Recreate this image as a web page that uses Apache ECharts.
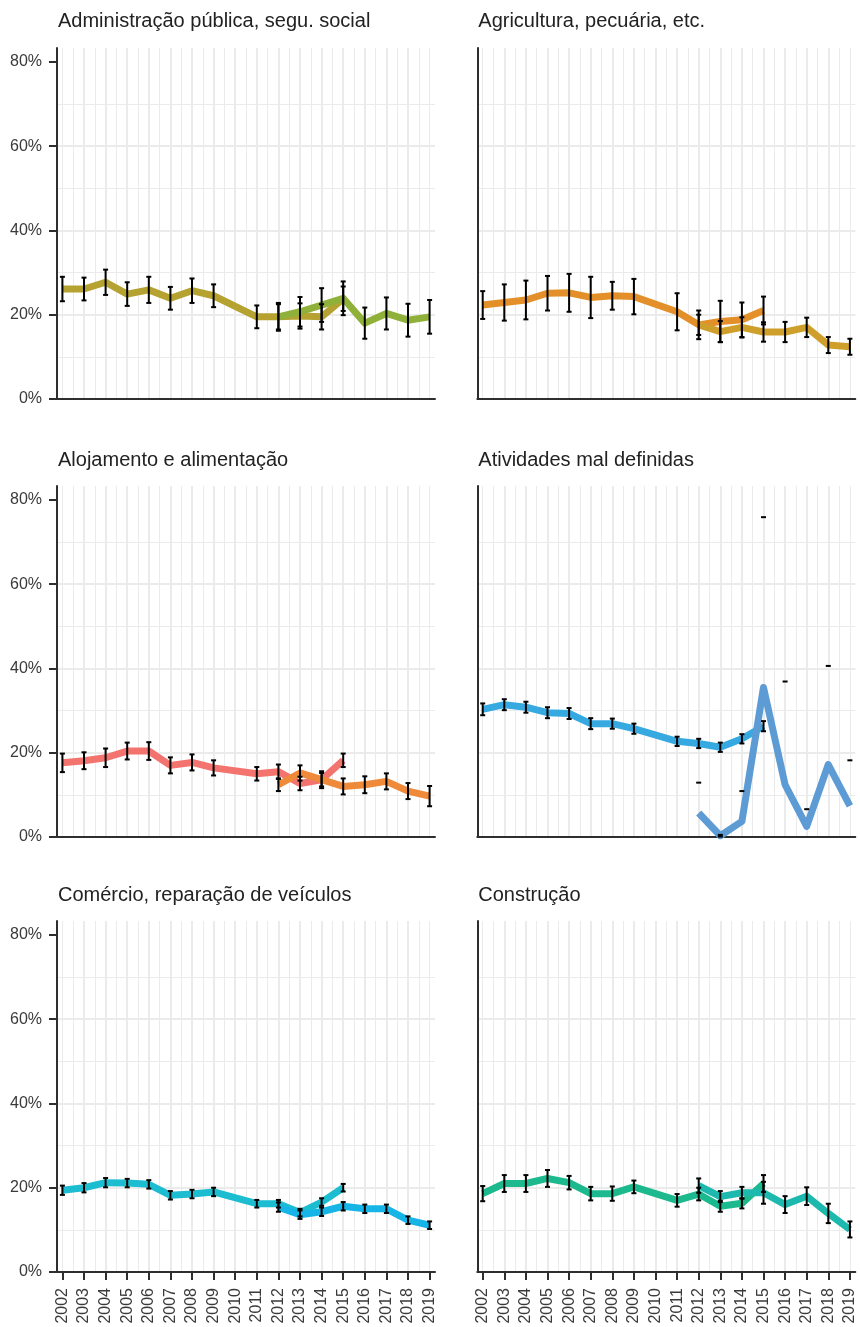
<!DOCTYPE html>
<html>
<head>
<meta charset="utf-8">
<script src="https://cdn.jsdelivr.net/npm/echarts@6/dist/echarts.min.js"></script>
<style>
  html, body { margin: 0; padding: 0; background: #ffffff; }
  #chart { width: 860px; height: 1327px; }
</style>
</head>
<body>
<div id="chart"></div>
<script>
// Years covered by each survey series (no 2010 round in the older survey)
const oldYears = [2002, 2003, 2004, 2005, 2006, 2007, 2008, 2009, 2011, 2012, 2013, 2014, 2015];
const newYears = [2012, 2013, 2014, 2015, 2016, 2017, 2018, 2019];
const yearTicks = [2002, 2003, 2004, 2005, 2006, 2007, 2008, 2009, 2010, 2011, 2012, 2013, 2014, 2015, 2016, 2017, 2018, 2019];
const percentTicks = [0, 20, 40, 60, 80];

const panelTitles = [
  'Administração pública, segu. social',
  'Agricultura, pecuária, etc.',
  'Alojamento e alimentação',
  'Atividades mal definidas',
  'Comércio, reparação de veículos',
  'Construção'
];

// Estimates (%) and margins of error (± percentage points)
const adminOld    = [26.1, 26.1, 27.7, 24.9, 25.9, 23.9, 25.7, 24.5, 19.5, 19.5, 19.7, 19.5, 23.8];
const adminOldMoe = [2.9, 2.7, 3.0, 2.8, 3.1, 2.7, 2.9, 2.7, 2.7, 3.0, 3.0, 3.0, 2.9];
const adminNew    = [19.5, 20.7, 22.3, 23.9, 18.0, 20.3, 18.7, 19.5];
const adminNewMoe = [3.3, 3.5, 4.0, 4.0, 3.7, 3.8, 3.9, 4.0];

const agroOld    = [22.3, 22.9, 23.5, 25.1, 25.2, 24.1, 24.5, 24.3, 20.7, 17.6, 18.4, 18.8, 21.0];
const agroOldMoe = [3.3, 4.3, 4.6, 4.1, 4.5, 4.9, 3.3, 4.2, 4.4, 3.4, 4.9, 4.1, 3.3];
const agroNew    = [17.6, 16.0, 17.0, 15.9, 15.9, 17.0, 12.8, 12.4];
const agroNewMoe = [2.4, 2.5, 2.4, 2.3, 2.4, 2.3, 1.9, 1.9];

const lodgingOld    = [17.6, 18.1, 18.8, 20.4, 20.4, 17.0, 17.7, 16.4, 15.0, 15.5, 12.7, 13.6, 18.2];
const lodgingOldMoe = [2.2, 2.0, 2.2, 2.0, 2.1, 1.9, 1.9, 1.8, 1.6, 1.7, 1.6, 1.6, 1.6];
const lodgingNew    = [12.4, 15.2, 13.6, 12.0, 12.4, 13.2, 10.9, 9.7];
const lodgingNewMoe = [1.5, 1.8, 2.0, 1.9, 2.0, 1.9, 1.9, 2.4];

const undefinedOld    = [30.3, 31.4, 30.8, 29.5, 29.3, 26.9, 26.9, 25.7, 22.7, 22.2, 21.3, 23.3, 26.3];
const undefinedOldMoe = [1.4, 1.3, 1.3, 1.3, 1.3, 1.3, 1.2, 1.2, 1.1, 1.1, 1.1, 1.1, 1.2];
const undefinedNew    = [5.7, 0.3, 3.7, 35.5, 12.4, 2.5, 17.2, 7.4];
const undefinedNewMoe = [7.2, 0.2, 7.2, 40.4, 24.5, 4.1, 23.4, 10.8];

const tradeOld    = [19.4, 20.0, 21.2, 21.1, 20.8, 18.2, 18.5, 19.0, 16.2, 16.2, 14.1, 16.6, 20.0];
const tradeOldMoe = [1.1, 1.1, 1.1, 1.0, 1.0, 1.0, 1.0, 1.0, 0.9, 0.9, 0.9, 0.9, 0.9];
const tradeNew    = [15.4, 13.6, 14.3, 15.6, 15.0, 15.0, 12.3, 11.1];
const tradeNewMoe = [1.1, 1.0, 1.0, 1.0, 1.0, 1.0, 0.9, 0.9];

const buildOld    = [18.6, 21.0, 21.0, 22.2, 21.2, 18.6, 18.6, 20.2, 17.0, 18.5, 15.6, 16.3, 21.0];
const buildOldMoe = [1.8, 2.0, 2.0, 2.0, 1.6, 1.6, 1.7, 1.5, 1.5, 1.5, 1.3, 1.2, 2.0];
const buildNew    = [20.5, 17.9, 18.8, 18.8, 16.0, 18.0, 13.9, 10.1];
const buildNewMoe = [1.7, 1.3, 1.4, 2.6, 2.0, 2.1, 2.3, 1.9];

const oldColors = ['#B5A231', '#E3902A', '#F3746F', '#37A9E1', '#1CBDD0', '#1DB98E'];
const newColors = ['#8FB13A', '#CF9F2C', '#EE8A3A', '#5C9BD4', '#17B5E7', '#1DB8AE'];

const panels = [
  { old: adminOld,     oldMoe: adminOldMoe,     nw: adminNew,     nwMoe: adminNewMoe },
  { old: agroOld,      oldMoe: agroOldMoe,      nw: agroNew,      nwMoe: agroNewMoe },
  { old: lodgingOld,   oldMoe: lodgingOldMoe,   nw: lodgingNew,   nwMoe: lodgingNewMoe },
  { old: undefinedOld, oldMoe: undefinedOldMoe, nw: undefinedNew, nwMoe: undefinedNewMoe },
  { old: tradeOld,     oldMoe: tradeOldMoe,     nw: tradeNew,     nwMoe: tradeNewMoe },
  { old: buildOld,     oldMoe: buildOldMoe,     nw: buildNew,     nwMoe: buildNewMoe }
];

// Layout of the 3 x 2 facet grid
const colLeft = [57, 477.3];
const rowTop = [48, 486, 921];
const titleMid = [21.5, 460.5, 895];
const panelW = 378;
const panelH = 351;
const yMax = 83.3;
const xMin = 2001.75, xMax = 2019.25;

const FONT = '"Liberation Sans", Arial, Helvetica, sans-serif';
const GRID_COLOR = '#EBEBEB';
const AXIS_COLOR = '#2E2E2E';
const LABEL_COLOR = '#3A3A3A';

function errorBarItem(params, api) {
  const x = api.value(0), lo = api.value(1), hi = api.value(2);
  const top = api.coord([x, hi]);
  const half = 2.5;
  const style = { stroke: '#000000', lineWidth: 2, lineCap: 'butt' };
  const children = [
    { type: 'line', shape: { x1: top[0] - half, y1: top[1], x2: top[0] + half, y2: top[1] }, style: style }
  ];
  // a lower bound below the axis range drops the stem and lower cap
  if (lo >= 0) {
    const bot = api.coord([x, lo]);
    children.push({ type: 'line', shape: { x1: top[0], y1: top[1], x2: bot[0], y2: bot[1] }, style: style });
    children.push({ type: 'line', shape: { x1: bot[0] - half, y1: bot[1], x2: bot[0] + half, y2: bot[1] }, style: style });
  }
  return { type: 'group', children: children };
}

const grids = [], xAxes = [], yAxes = [], series = [], graphics = [];

panels.forEach((p, i) => {
  const col = i % 2, row = Math.floor(i / 2);
  const isBottom = row === 2, isLeft = col === 0;
  grids.push({ left: colLeft[col], top: rowTop[row], width: panelW, height: panelH, containLabel: false });

  // main x axis: one gridline per year
  xAxes.push({
    type: 'value', gridIndex: i, min: xMin, max: xMax, minInterval: 1, maxInterval: 1,
    position: 'bottom',
    axisLine: { show: true, onZero: false, lineStyle: { color: AXIS_COLOR, width: 2 } },
    axisTick: { show: isBottom, length: 8, customValues: yearTicks, lineStyle: { color: AXIS_COLOR, width: 2 } },
    axisLabel: {
      show: isBottom, customValues: yearTicks, rotate: 90, margin: 16,
      fontFamily: FONT, fontSize: 16, color: LABEL_COLOR,
      formatter: v => (Math.abs(v - Math.round(v)) < 1e-6 ? String(Math.round(v)) : '')
    },
    splitLine: { show: true, showMinLine: false, showMaxLine: false, lineStyle: { color: GRID_COLOR, width: 2 } }
  });
  // secondary x axis: half-year minor gridlines
  xAxes.push({
    type: 'value', gridIndex: i, min: xMin, max: xMax, minInterval: 0.5, maxInterval: 0.5,
    position: 'top',
    axisLine: { show: false, onZero: false }, axisTick: { show: false }, axisLabel: { show: false },
    splitLine: { show: true, showMinLine: false, showMaxLine: false, lineStyle: { color: GRID_COLOR, width: 1 } }
  });

  yAxes.push({
    type: 'value', gridIndex: i, min: 0, max: yMax, interval: 20,
    axisLine: { show: true, onZero: false, lineStyle: { color: AXIS_COLOR, width: 2 } },
    axisTick: { show: isLeft, length: 8, customValues: percentTicks, lineStyle: { color: AXIS_COLOR, width: 2 } },
    axisLabel: {
      show: isLeft, customValues: percentTicks, margin: 15,
      fontFamily: FONT, fontSize: 16, color: LABEL_COLOR,
      formatter: v => (Math.abs(v % 20) < 1e-6 ? Math.round(v) + '%' : '')
    },
    splitLine: { show: true, showMinLine: true, showMaxLine: false, lineStyle: { color: GRID_COLOR, width: 2 } },
    minorTick: { show: false, splitNumber: 2 },
    minorSplitLine: { show: true, lineStyle: { color: GRID_COLOR, width: 1 } }
  });

  const oldLine = oldYears.map((y, k) => [y, p.old[k]]);
  const newLine = newYears.map((y, k) => [y, p.nw[k]]);
  const oldBars = oldYears.map((y, k) => [y, p.old[k] - p.oldMoe[k], p.old[k] + p.oldMoe[k]]);
  const newBars = newYears.map((y, k) => [y, p.nw[k] - p.nwMoe[k], p.nw[k] + p.nwMoe[k]]);

  const lineBase = { type: 'line', xAxisIndex: 2 * i, yAxisIndex: i, showSymbol: false, symbol: 'none', silent: true };
  series.push(Object.assign({}, lineBase, {
    data: oldLine, z: 2, lineStyle: { color: oldColors[i], width: 7, cap: 'butt', join: 'round' }
  }));
  series.push(Object.assign({}, lineBase, {
    data: newLine, z: 3, lineStyle: { color: newColors[i], width: 7, cap: 'butt', join: 'round' }
  }));
  [oldBars, newBars].forEach(bars => {
    series.push({
      type: 'custom', xAxisIndex: 2 * i, yAxisIndex: i, z: 4, silent: true,
      renderItem: errorBarItem, encode: { x: 0, y: [1, 2] }, data: bars
    });
  });

  graphics.push({
    type: 'text', x: colLeft[col] + 1, y: titleMid[row],
    style: { text: panelTitles[i], font: '20px ' + FONT, fill: '#222222', verticalAlign: 'middle', align: 'left' }
  });
});

const chart = echarts.init(document.getElementById('chart'), null, { renderer: 'canvas' });
chart.setOption({
  animation: false,
  backgroundColor: '#ffffff',
  grid: grids,
  xAxis: xAxes,
  yAxis: yAxes,
  series: series,
  graphic: graphics
});
</script>
</body>
</html>
